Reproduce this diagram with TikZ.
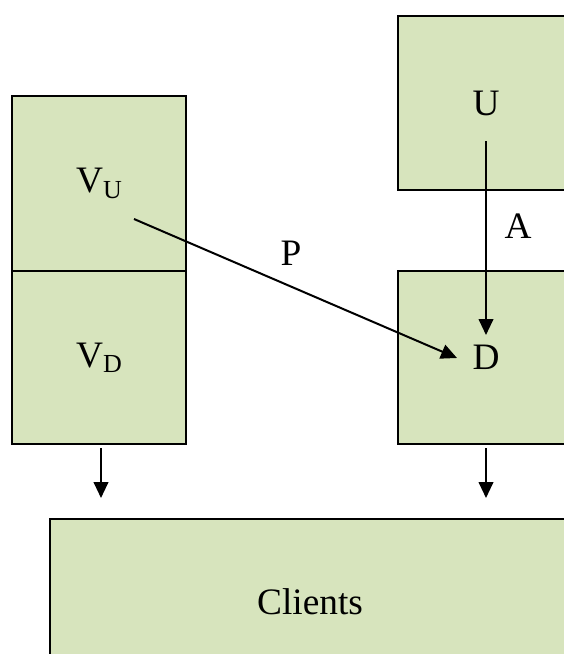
\documentclass[tikz,border=0pt]{standalone}
\usepackage{fontspec}
\setmainfont{Liberation Serif}
\usetikzlibrary{arrows.meta}
\definecolor{boxfill}{HTML}{D7E4BD}
\newcommand{\subU}[1]{\raisebox{-4pt}{\fontsize{19.5}{22}\selectfont #1}}
\tikzset{
  box/.style={draw=black, line width=1.1pt, fill=boxfill, inner sep=0pt,
    font=\fontsize{28}{32}\selectfont},
  arr/.style={line width=1.5pt, -{Triangle[length=12pt, width=11pt]}},
  lbl/.style={font=\fontsize{28}{32}\selectfont, inner sep=0pt}
}
\begin{document}
\begin{tikzpicture}[x=0.75pt, y=-0.75pt]
\useasboundingbox (0,0) rectangle (564,654);
\node[box, minimum width=130.5pt, minimum height=131.25pt] (vu) at (99,183.5) {V\subU{U}};
\node[box, minimum width=130.5pt, minimum height=129.75pt] (vd) at (99,357.5) {V\subU{D}};
\node[box, minimum width=132pt, minimum height=130.5pt] (u) at (486,103) {U};
\node[box, minimum width=132pt, minimum height=129.75pt] (d) at (486,357.5) {D};
\node[box, minimum width=390pt, minimum height=124.5pt] (cl) at (310,602) {Clients};
\node[lbl] (p) at (291,253) {P};
\node[lbl] (a) at (518,226) {A};
\coordinate (ps) at (134,219);
\coordinate (pe) at (457,358);
\coordinate (us) at (486,141);
\coordinate (ue) at (486,335);
\coordinate (l1) at (101,448);
\coordinate (l2) at (101,498);
\coordinate (r1) at (486,448);
\coordinate (r2) at (486,498);
\draw[arr] (ps) -- (pe);
\draw[arr] (us) -- (ue);
\draw[arr] (l1) -- (l2);
\draw[arr] (r1) -- (r2);
\end{tikzpicture}
\end{document}
